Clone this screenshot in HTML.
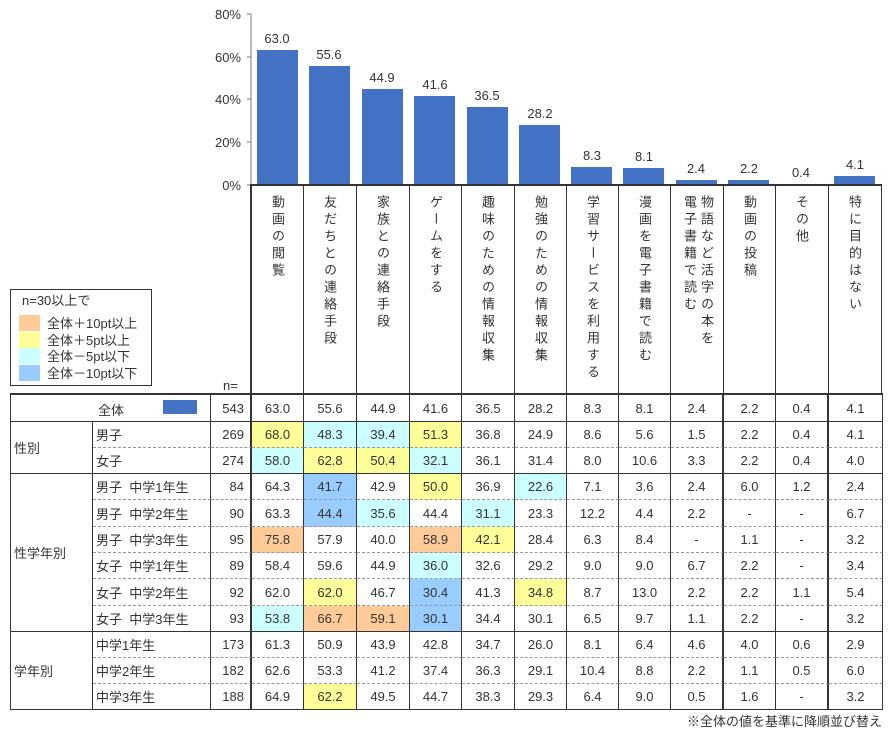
<!DOCTYPE html>
<html><head><meta charset="utf-8">
<style>
body{margin:0;width:888px;height:732px;background:#fff;position:relative;overflow:hidden;font-family:"Liberation Sans","Noto Sans CJK JP",sans-serif;color:#333;}
.a{position:absolute}
.vt{position:absolute;top:195px;writing-mode:vertical-rl;font-size:13px;letter-spacing:4px;line-height:16px;height:195px;color:#333;white-space:nowrap}
table{position:absolute;left:10px;top:393px;border-collapse:separate;border-spacing:0;table-layout:fixed;width:872px;border-top:2px solid #333;border-left:1px solid #333;font-size:13px}
td{box-sizing:border-box;border-right:1px solid #333;border-bottom:1px solid #333;padding:0;text-align:center;height:26px;white-space:nowrap;overflow:hidden}
td.l{text-align:left;padding-left:3px}
td.n{text-align:right;padding-right:6px;border-right:2px solid #333}
td.k{border-right:2px solid #333}
td.g{text-align:left;padding-left:3px}
tr.u td:not(.g){border-bottom:1px dashed #999}
tr.h td{height:27px}
.o{background:#FFCC99}.y{background:#FFFF99}.c{background:#CCFFFF}.b{background:#99CCFF}
</style></head><body>
<svg class="a" style="left:0;top:0" width="888" height="395">
<g font-family="Liberation Sans, sans-serif" font-size="13" fill="#333" text-anchor="end">
<text x="241" y="19">80%</text><text x="241" y="62">60%</text><text x="241" y="104">40%</text><text x="241" y="147">20%</text><text x="241" y="190">0%</text>
</g>
<line x1="251" y1="14" x2="251" y2="185" stroke="#777"/>
<g stroke="#777"><line x1="247" y1="14" x2="251" y2="14"/><line x1="247" y1="57" x2="251" y2="57"/><line x1="247" y1="99" x2="251" y2="99"/><line x1="247" y1="142" x2="251" y2="142"/><line x1="247" y1="185" x2="251" y2="185"/></g>
<g fill="#4472C4">
<rect x="257" y="50" width="41" height="135"/>
<rect x="309" y="66" width="41" height="119"/>
<rect x="362" y="89" width="41" height="96"/>
<rect x="414" y="96" width="41" height="89"/>
<rect x="467" y="107" width="41" height="78"/>
<rect x="519" y="125" width="41" height="60"/>
<rect x="571" y="167" width="41" height="18"/>
<rect x="623" y="168" width="41" height="17"/>
<rect x="676" y="180" width="41" height="5"/>
<rect x="728" y="180" width="41" height="5"/>
<rect x="781" y="184" width="41" height="1"/>
<rect x="834" y="176" width="41" height="9"/>
</g>
<g font-family="Liberation Sans, sans-serif" font-size="13" fill="#333" text-anchor="middle">
<text x="277" y="43">63.0</text><text x="329" y="59">55.6</text><text x="382" y="82">44.9</text><text x="435" y="89">41.6</text><text x="487" y="100">36.5</text><text x="540" y="118">28.2</text><text x="592" y="160">8.3</text><text x="644" y="161">8.1</text><text x="696" y="173">2.4</text><text x="749" y="173">2.2</text><text x="801" y="177">0.4</text><text x="855" y="169">4.1</text>
</g>
<line x1="250" y1="185" x2="882" y2="185" stroke="#333" stroke-width="2"/>
<line x1="251" y1="185" x2="251" y2="395" stroke="#333" stroke-width="2"/>
<g stroke="#333" stroke-width="1">
<line x1="303.5" y1="185" x2="303.5" y2="395"/><line x1="356.5" y1="185" x2="356.5" y2="395"/><line x1="409.5" y1="185" x2="409.5" y2="395"/><line x1="461.5" y1="185" x2="461.5" y2="395"/><line x1="514.5" y1="185" x2="514.5" y2="395"/><line x1="566.5" y1="185" x2="566.5" y2="395"/><line x1="618.5" y1="185" x2="618.5" y2="395"/><line x1="670.5" y1="185" x2="670.5" y2="395"/><line x1="723.5" y1="185" x2="723.5" y2="395"/><line x1="775.5" y1="185" x2="775.5" y2="395"/><line x1="828.5" y1="185" x2="828.5" y2="395"/><line x1="881.5" y1="185" x2="881.5" y2="395"/>
</g>
<rect x="10.5" y="289.5" width="141" height="96" fill="#fff" stroke="#333"/>
<rect x="19" y="315" width="21" height="16" fill="#FFCC99"/>
<rect x="19" y="332" width="21" height="16" fill="#FFFF99"/>
<rect x="19" y="348" width="21" height="16" fill="#CCFFFF"/>
<rect x="19" y="365" width="21" height="16" fill="#99CCFF"/>
<g font-family="Liberation Sans, Noto Sans CJK JP, sans-serif" font-size="13" fill="#333">
<text x="22" y="305">n=30以上で</text>
<text x="47" y="328">全体＋10pt以上</text>
<text x="47" y="345">全体＋5pt以上</text>
<text x="47" y="361">全体－5pt以下</text>
<text x="47" y="378">全体－10pt以下</text>
<text x="223" y="390">n=</text>
</g>
</svg>
<div class="vt" style="left:269px">動画の閲覧</div>
<div class="vt" style="left:321px">友だちとの連絡手段</div>
<div class="vt" style="left:374px">家族との連絡手段</div>
<div class="vt" style="left:427px">ゲームをする</div>
<div class="vt" style="left:479px">趣味のための情報収集</div>
<div class="vt" style="left:532px">勉強のための情報収集</div>
<div class="vt" style="left:584px">学習サービスを利用する</div>
<div class="vt" style="left:636px">漫画を電子書籍で読む</div>
<div class="vt" style="left:698px">物語など活字の本を</div>
<div class="vt" style="left:681px">電子書籍で読む</div>
<div class="vt" style="left:741px">動画の投稿</div>
<div class="vt" style="left:793px">その他</div>
<div class="vt" style="left:846px">特に目的はない</div>
<table>
<colgroup><col style="width:82px"><col style="width:118px"><col style="width:41px"><col style="width:52px"><col style="width:53px"><col style="width:53px"><col style="width:52px"><col style="width:53px"><col style="width:52px"><col style="width:52px"><col style="width:52px"><col style="width:53px"><col style="width:52px"><col style="width:53px"><col style="width:54px"></colgroup>
<tr class="h"><td colspan="2" style="position:relative"><span style="position:absolute;left:87px;top:5px">全体</span><span style="position:absolute;left:152px;top:5px;width:34px;height:14px;background:#4472C4"></span></td><td class="n">543</td><td>63.0</td><td>55.6</td><td>44.9</td><td>41.6</td><td>36.5</td><td>28.2</td><td>8.3</td><td>8.1</td><td class="k">2.4</td><td>2.2</td><td class="k">0.4</td><td>4.1</td></tr>
<tr class="u"><td class="g" rowspan="2">性別</td><td class="l">男子</td><td class="n">269</td><td class="y">68.0</td><td class="c">48.3</td><td class="c">39.4</td><td class="y">51.3</td><td>36.8</td><td>24.9</td><td>8.6</td><td>5.6</td><td class="k">1.5</td><td>2.2</td><td class="k">0.4</td><td>4.1</td></tr>
<tr><td class="l">女子</td><td class="n">274</td><td class="c">58.0</td><td class="y">62.8</td><td class="y">50.4</td><td class="c">32.1</td><td>36.1</td><td>31.4</td><td>8.0</td><td>10.6</td><td class="k">3.3</td><td>2.2</td><td class="k">0.4</td><td>4.0</td></tr>
<tr class="u"><td class="g" rowspan="6">性学年別</td><td class="l">男子&nbsp;&nbsp;中学1年生</td><td class="n">84</td><td>64.3</td><td class="b">41.7</td><td>42.9</td><td class="y">50.0</td><td>36.9</td><td class="c">22.6</td><td>7.1</td><td>3.6</td><td class="k">2.4</td><td>6.0</td><td class="k">1.2</td><td>2.4</td></tr>
<tr class="u h"><td class="l">男子&nbsp;&nbsp;中学2年生</td><td class="n">90</td><td>63.3</td><td class="b">44.4</td><td class="c">35.6</td><td>44.4</td><td class="c">31.1</td><td>23.3</td><td>12.2</td><td>4.4</td><td class="k">2.2</td><td>-</td><td class="k">-</td><td>6.7</td></tr>
<tr class="u"><td class="l">男子&nbsp;&nbsp;中学3年生</td><td class="n">95</td><td class="o">75.8</td><td>57.9</td><td>40.0</td><td class="o">58.9</td><td class="y">42.1</td><td>28.4</td><td>6.3</td><td>8.4</td><td class="k">-</td><td>1.1</td><td class="k">-</td><td>3.2</td></tr>
<tr class="u"><td class="l">女子&nbsp;&nbsp;中学1年生</td><td class="n">89</td><td>58.4</td><td>59.6</td><td>44.9</td><td class="c">36.0</td><td>32.6</td><td>29.2</td><td>9.0</td><td>9.0</td><td class="k">6.7</td><td>2.2</td><td class="k">-</td><td>3.4</td></tr>
<tr class="u h"><td class="l">女子&nbsp;&nbsp;中学2年生</td><td class="n">92</td><td>62.0</td><td class="y">62.0</td><td>46.7</td><td class="b">30.4</td><td>41.3</td><td class="y">34.8</td><td>8.7</td><td>13.0</td><td class="k">2.2</td><td>2.2</td><td class="k">1.1</td><td>5.4</td></tr>
<tr><td class="l">女子&nbsp;&nbsp;中学3年生</td><td class="n">93</td><td class="c">53.8</td><td class="o">66.7</td><td class="o">59.1</td><td class="b">30.1</td><td>34.4</td><td>30.1</td><td>6.5</td><td>9.7</td><td class="k">1.1</td><td>2.2</td><td class="k">-</td><td>3.2</td></tr>
<tr class="u"><td class="g" rowspan="3">学年別</td><td class="l">中学1年生</td><td class="n">173</td><td>61.3</td><td>50.9</td><td>43.9</td><td>42.8</td><td>34.7</td><td>26.0</td><td>8.1</td><td>6.4</td><td class="k">4.6</td><td>4.0</td><td class="k">0.6</td><td>2.9</td></tr>
<tr class="u"><td class="l">中学2年生</td><td class="n">182</td><td>62.6</td><td>53.3</td><td>41.2</td><td>37.4</td><td>36.3</td><td>29.1</td><td>10.4</td><td>8.8</td><td class="k">2.2</td><td>1.1</td><td class="k">0.5</td><td>6.0</td></tr>
<tr><td class="l">中学3年生</td><td class="n">188</td><td>64.9</td><td class="y">62.2</td><td>49.5</td><td>44.7</td><td>38.3</td><td>29.3</td><td>6.4</td><td>9.0</td><td class="k">0.5</td><td>1.6</td><td class="k">-</td><td>3.2</td></tr>
</table>
<div class="a" style="right:6px;top:711px;font-size:13px">※全体の値を基準に降順並び替え</div>
</body></html>
